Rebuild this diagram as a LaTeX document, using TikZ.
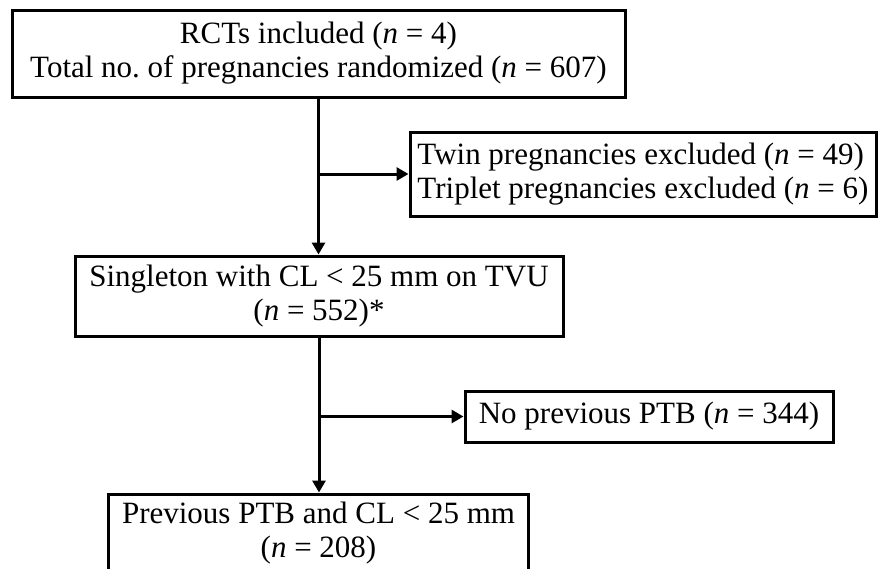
\documentclass[tikz,border=0pt]{standalone}
\usepackage{fontspec}
\setmainfont{Liberation Serif}
\usetikzlibrary{arrows.meta}

\begin{document}
\begin{tikzpicture}[
    x=1pt, y=-1pt,
    box/.style={draw, line width=3pt, inner sep=0pt, align=center,
                font=\fontsize{31pt}{34pt}\selectfont},
    arrow/.style={-{Triangle[width=13pt, length=12pt]}, line width=3pt}
]
    \useasboundingbox (0,0) rectangle (878,568);
    \clip (0,0) rectangle (878,568);

    \node[box, minimum width=613pt, minimum height=87pt] (rcts) at (318.5,53.5)
        {RCTs included (\textit{n} = 4)\\Total no.\ of pregnancies randomized (\textit{n} = 607)};
    \node[box, align=left, minimum width=466pt, minimum height=84pt] (excl) at (643,174)
        {Twin pregnancies excluded (\textit{n} = 49)\\Triplet pregnancies excluded (\textit{n} = 6)};
    \node[box, minimum width=488pt, minimum height=80pt] (single) at (319,296)
        {Singleton with CL < 25 mm on TVU\\(\textit{n} = 552)*};
    \node[box, minimum width=368pt, minimum height=51pt] (noprev) at (649,416.5)
        {No previous PTB (\textit{n} = 344)};
    \node[box, minimum width=420pt, minimum height=78pt] (prev) at (318.5,533)
        {Previous PTB and CL < 25 mm\\(\textit{n} = 208)};

    \draw[arrow] (rcts.south) -- (rcts.south |- single.north);
    \draw[arrow] (rcts.south |- excl.west) -- (excl.west);
    \draw[arrow] (single.south) -- (single.south |- prev.north);
    \draw[arrow] (single.south |- noprev.west) -- (noprev.west);
\end{tikzpicture}
\end{document}
